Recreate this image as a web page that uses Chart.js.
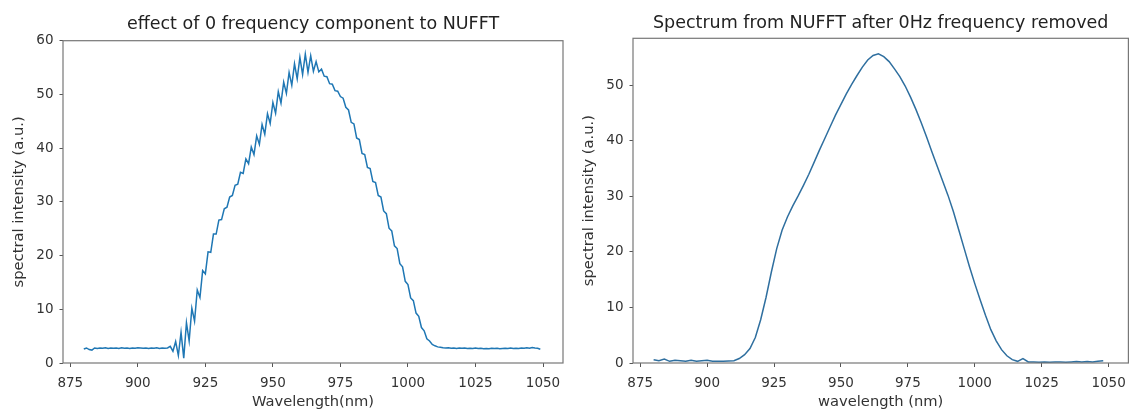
<!DOCTYPE html>
<html>
<head>
<meta charset="utf-8">
<title>NUFFT spectrum</title>
<script src="https://cdn.jsdelivr.net/npm/chart.js@4.4.1/dist/chart.umd.min.js"></script>
<style>
  html, body { margin: 0; padding: 0; background: #fff; }
  #wrap { position: relative; width: 1134px; height: 410px; overflow: hidden; }
  #left-box { position: absolute; left: 0; top: 0; width: 570px; height: 410px; }
  #right-box { position: absolute; left: 570px; top: 0; width: 564px; height: 410px; }
</style>
</head>
<body>
<div id="wrap">
  <div id="left-box"><canvas id="left-chart" width="570" height="410"></canvas></div>
  <div id="right-box"><canvas id="right-chart" width="564" height="410"></canvas></div>
</div>
<script>
// sampling grids (nm)
const leftStart = 880, leftStep = 1;
const rightStart = 880, rightStep = 2;

// left: raw NUFFT incl. 0 Hz component (1 nm apart)
const leftIntensity = [
  2.6, 2.8, 2.5, 2.4, 2.8, 2.7, 2.8, 2.75, 2.85, 2.7,
  2.8, 2.75, 2.8, 2.7, 2.85, 2.75, 2.8, 2.7, 2.8, 2.75,
  2.85, 2.8, 2.75, 2.8, 2.7, 2.8, 2.75, 2.85, 2.7, 2.8,
  2.75, 2.8, 3.1, 2.2, 4.0, 1.4, 5.7, 0.9, 7.5, 4.1,
  10.2, 7.8, 13.6, 12.2, 17.2, 16.6, 20.7, 20.6, 24.0, 24.0,
  26.6, 26.7, 28.7, 29.0, 30.9, 31.2, 33.1, 33.3, 35.5, 35.3,
  38.0, 37.1, 40.2, 38.8, 42.3, 40.7, 44.4, 42.6, 46.4, 44.6,
  48.5, 46.5, 50.5, 48.4, 52.3, 50.2, 54.1, 51.7, 55.7, 52.9,
  56.9, 53.7, 57.5, 54.1, 57.2, 54.3, 56.1, 54.2, 54.7, 53.4,
  53.3, 52.0, 51.9, 50.7, 50.6, 49.6, 49.3, 47.6, 47.1, 44.8,
  44.5, 41.9, 41.6, 39.0, 38.8, 36.4, 36.2, 33.8, 33.6, 31.2,
  30.9, 28.3, 27.8, 25.1, 24.6, 21.8, 21.3, 18.5, 17.9, 15.2,
  14.6, 12.1, 11.6, 9.3, 8.7, 6.6, 6.0, 4.5, 4.1, 3.45,
  3.2, 3.0, 2.95, 2.85, 2.8, 2.85, 2.75, 2.8, 2.7, 2.8,
  2.75, 2.8, 2.7, 2.75, 2.7, 2.8, 2.7, 2.75, 2.65, 2.7,
  2.65, 2.75, 2.7, 2.75, 2.65, 2.7, 2.75, 2.7, 2.8, 2.7,
  2.75, 2.7, 2.8, 2.75, 2.85, 2.75, 2.9, 2.8, 2.75, 2.55
];

// right: after removing 0 Hz (2 nm apart)
const rightIntensity = [
  0.6, 0.4, 0.7, 0.3, 0.5, 0.4, 0.3, 0.5, 0.3, 0.4,
  0.5, 0.3, 0.3, 0.3, 0.35, 0.4, 0.8, 1.5, 2.6, 4.6,
  7.8, 11.8, 16.4, 20.6, 23.9, 26.3, 28.3, 30.1, 32.0, 34.0,
  36.2, 38.4, 40.5, 42.6, 44.7, 46.6, 48.5, 50.2, 51.8, 53.3,
  54.6, 55.4, 55.7, 55.2, 54.3, 53.0, 51.6, 49.9, 47.9, 45.7,
  43.3, 40.7, 38.0, 35.4, 32.8, 30.2, 27.3, 24.0, 20.7, 17.4,
  14.3, 11.4, 8.6, 6.0, 4.0, 2.4, 1.3, 0.6, 0.3, 0.8,
  0.2, 0.2, 0.15, 0.2, 0.15, 0.2, 0.2, 0.15, 0.2, 0.25,
  0.2, 0.25, 0.2, 0.3, 0.4
];

const xTicks = [875, 900, 925, 950, 975, 1000, 1025, 1050];
const leftYTicks = [0, 10, 20, 30, 40, 50, 60];
const rightYTicks = [0, 10, 20, 30, 40, 50];

const FONT = "'DejaVu Sans', sans-serif";

document.addEventListener("DOMContentLoaded", () => {
    const leftPoints = leftIntensity.map((v, i) => ({ x: leftStart + i * leftStep, y: v }));
    const rightPoints = rightIntensity.map((v, i) => ({ x: rightStart + i * rightStep, y: v }));

    // matplotlib style box round the plot area
    const framePlugin = {
        id: "frame",
        afterDraw(chart) {
            const { ctx, chartArea: a } = chart;
            ctx.save();
            ctx.strokeStyle = "#777";
            ctx.lineWidth = 1.2;
            ctx.strokeRect(a.left, a.top, a.right - a.left, a.bottom - a.top);
            ctx.restore();
        }
    };

    function createSpectrumChart(canvasId, opt) {
        const ctx = document.getElementById(canvasId).getContext("2d");
        return new Chart(ctx, {
            type: "line",
            data: {
                datasets: [{
                    data: opt.points,
                    borderColor: opt.color,
                    borderWidth: 1.5,
                    pointRadius: 0,
                    tension: 0,
                    fill: false,
                }],
            },
            options: {
                responsive: false,
                animation: false,
                devicePixelRatio: 1,
                layout: { padding: { left: 0, right: opt.padRight, top: 0, bottom: 0 } },
                plugins: {
                    legend: { display: false },
                    tooltip: { enabled: false },
                    title: {
                        display: true,
                        fullSize: false, // centre over the plot area, not the canvas
                        text: opt.title,
                        color: "#222",
                        font: { family: FONT, size: 17.5, weight: "normal" },
                        padding: { top: opt.titleTop, bottom: opt.titleBottom },
                    },
                },
                scales: {
                    x: {
                        type: "linear",
                        min: 872.3,
                        max: 1057.4,
                        afterBuildTicks: (s) => { s.ticks = xTicks.map((v) => ({ value: v })); },
                        afterFit: (s) => { s.height = 47; },
                        grid: { drawOnChartArea: false, drawTicks: true, tickLength: 4, color: "#555" },
                        border: { display: false },
                        ticks: {
                            color: "#333",
                            padding: 8,
                            maxRotation: 0,
                            font: { family: FONT, size: 13.5 },
                            callback: (v) => String(v),
                        },
                        title: {
                            display: true,
                            text: opt.xLabel,
                            color: "#333",
                            font: { family: FONT, size: 14.7, lineHeight: 1 },
                            padding: { top: 0, bottom: 0 },
                        },
                    },
                    y: {
                        min: 0,
                        max: opt.yMax,
                        afterBuildTicks: (s) => { s.ticks = opt.yTicks.map((v) => ({ value: v })); },
                        afterFit: (s) => { s.width = 63; },
                        grid: { drawOnChartArea: false, drawTicks: true, tickLength: 3.5, color: "#555" },
                        border: { display: false },
                        ticks: {
                            color: "#333",
                            padding: 6,
                            font: { family: FONT, size: 13.5 },
                            callback: (v) => String(v),
                        },
                        title: {
                            display: true,
                            text: "spectral intensity (a.u.)",
                            color: "#333",
                            font: { family: FONT, size: 14.7 },
                            padding: { top: 10, bottom: 0 },
                        },
                    },
                },
            },
            plugins: [framePlugin],
        });
    }

    createSpectrumChart("left-chart", {
        points: leftPoints,
        color: "#1f77b4",
        title: "effect of 0 frequency component to NUFFT",
        xLabel: "Wavelength(nm)",
        yMax: 60,
        yTicks: leftYTicks,
        padRight: 7,
        titleTop: 13.5,
        titleBottom: 6.2,
    });

    createSpectrumChart("right-chart", {
        points: rightPoints,
        color: "#2f6f9f",
        title: "Spectrum from NUFFT after 0Hz frequency removed",
        xLabel: "wavelength (nm)",
        yMax: 58.5,
        yTicks: rightYTicks,
        padRight: 1,
        titleTop: 13,
        titleBottom: 4.3,
    });
});
</script>
</body>
</html>
